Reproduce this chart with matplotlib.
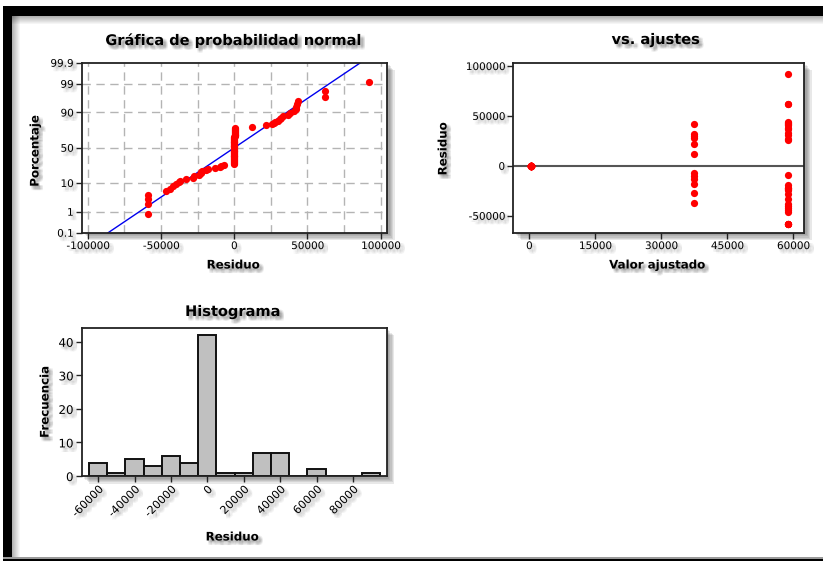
import matplotlib
matplotlib.use("Agg")
import matplotlib.pyplot as plt
import matplotlib.patheffects as pe
from matplotlib.patches import Rectangle
import numpy as np
from statistics import NormalDist

# ---- data -------------------------------------------------------------
# fitted value of each group and the residuals belonging to it
fit_levels = [300, 37400, 58700]
resid_low = [-290, -280, -260, -250, -240, -220, -200, -190, -170, -150,
             -140, -120, -100, -90, -70, -60, -40, -30, -20, -10,
             0, 0, 10, 20, 30, 40, 60, 70, 90, 100,
             120, 140, 150, 170, 190, 200, 220, 240, 250, 270, 280, 300]
resid_mid = [42000, 32000, 30000, 28000, 22000, 12000,
             -7000, -10000, -13500, -18000, -27600, -37300]
resid_high = [92000, 62000, 62000, 43500, 43000, 42000, 41000, 38000, 36500,
              33000, 31000, 27000, 26000,
              -9300, -19000, -22000, -22500, -23000, -24000, -28000, -33000,
              -38000, -40000, -42000, -44000, -46500,
              -58600, -58600, -58600, -58600]

prob_ticks = [0.1, 1, 10, 50, 90, 99, 99.9]
prob_labels = ["0.1", "1", "10", "50", "90", "99", "99.9"]
npp_xticks = [-100000, -50000, 0, 50000, 100000]
fit_xticks = [0, 15000, 30000, 45000, 60000]
fit_yticks = [-50000, 0, 50000, 100000]
hist_xticks = [-60000, -40000, -20000, 0, 20000, 40000, 60000, 80000]
hist_yticks = [0, 10, 20, 30, 40]
bin_width = 10000
bin_first_center = -60000
bin_last_center = 90000

groups = [resid_low, resid_mid, resid_high]
residuals = np.concatenate([np.array(g, float) for g in groups])
fitted = np.concatenate([np.full(len(g), f, float) for g, f in zip(groups, fit_levels)])

# ---- figure -----------------------------------------------------------
W, H = 823, 561
fig = plt.figure(figsize=(W / 100, H / 100), dpi=100)
fig.patch.set_facecolor("white")
plt.rcParams["font.family"] = ["DejaVu Sans"]

def px_rect(x, y, w, h, **kw):
    fig.add_artist(Rectangle((x / W, 1 - (y + h) / H), w / W, h / H,
                             transform=fig.transFigure, lw=0, **kw))

# window frame with a soft inner shadow
for k in range(8):
    a = 0.30 * (1 - k / 8)
    px_rect(12, 16 + k, W - 12, 1, color="black", alpha=a)
    px_rect(12 + k, 16, 1, H - 16, color="black", alpha=a)
px_rect(3, 6, W - 3, 10, color="black")
px_rect(3, 6, 9, H - 6, color="black")
px_rect(3, 557, W - 3, 2, color="#9a9a9a")
px_rect(3, 559, W - 3, 2, color="black")

def text_shadow(strength=0.07):
    fx = []
    for dx in (1.2, 2.2, 3.2):
        for dy in (1.2, 2.2, 3.2):
            fx.append(pe.SimplePatchShadow(offset=(dx, -dy), shadow_rgbFace="#333333",
                                           alpha=strength))
    return fx + [pe.Normal()]

def box_shadow():
    return [pe.SimplePatchShadow(offset=(k * 0.9, -k * 0.9), shadow_rgbFace="#333333",
                                 alpha=0.11) for k in range(1, 7)] + [pe.Normal()]

def ftext(x, y, s, **kw):
    t = fig.text(x / W, 1 - y / H, s, **kw)
    t.set_path_effects(text_shadow())
    return t

def px_axes(left, top, right, bottom):
    ax = fig.add_axes([left / W, 1 - bottom / H, (right - left) / W, (bottom - top) / H])
    ax.patch.set_path_effects(box_shadow())
    for sp in ax.spines.values():
        sp.set_color("#222222")
        sp.set_linewidth(1.3)
    ax.tick_params(direction="out", length=4, width=1, colors="#222222",
                   labelsize=7.5, labelcolor="black", pad=2)
    return ax

def shadow_ticklabels(ax):
    for lab in ax.get_xticklabels() + ax.get_yticklabels():
        lab.set_path_effects(text_shadow(0.05))

title_kw = dict(fontsize=10.5, fontweight="bold", ha="center", va="baseline")
label_kw = dict(fontsize=8.5, fontweight="bold", ha="center", va="center")

# ---- normal probability plot -------------------------------------------
nd = NormalDist()
ax1 = px_axes(82, 62.7, 387, 232.7)
srt = np.sort(residuals)
n = len(srt)
zq = np.array([nd.inv_cdf((i - 0.3) / (n + 0.4)) for i in range(1, n + 1)])
mu, sd = residuals.mean(), residuals.std(ddof=1)
zlim = nd.inv_cdf(0.999)
for xv in np.arange(-100000, 100001, 25000):
    ax1.axvline(xv, color="#b4b4b4", lw=1, ls=(0, (6, 4)), zorder=0)
for p in prob_ticks[1:-1]:
    ax1.axhline(nd.inv_cdf(p / 100), color="#b4b4b4", lw=1, ls=(0, (6, 4)), zorder=0)
zz = np.array([-zlim, zlim])
ax1.plot(mu + zz * sd, zz, color="#0000ee", lw=1, zorder=2)
ax1.plot(srt, zq, "o", color="#ff0000", ms=5.2, mec="none", zorder=3)
ax1.set_xlim(-104000, 104300)
ax1.set_ylim(-zlim, zlim)
ax1.set_xticks(npp_xticks)
ax1.set_xticklabels([str(v) for v in npp_xticks])
ax1.set_yticks([nd.inv_cdf(p / 100) for p in prob_ticks])
ax1.set_yticklabels(prob_labels)
shadow_ticklabels(ax1)
ftext(234, 45, "Gráfica de probabilidad normal", **title_kw)
ftext(233, 265, "Residuo", **label_kw)
ftext(35, 151, "Porcentaje", rotation=90, **label_kw)

# ---- residuals versus fits ----------------------------------------------
ax2 = px_axes(513.3, 62.7, 804, 232.7)
ax2.axhline(0, color="#555555", lw=1.5, zorder=1)
ax2.plot(fitted, residuals, "o", color="#ff0000", ms=5.2, mec="none", zorder=3)
ax2.set_xlim(-3640, 62430)
ax2.set_ylim(-67000, 103300)
ax2.set_xticks(fit_xticks)
ax2.set_xticklabels([str(v) for v in fit_xticks])
ax2.set_yticks(fit_yticks)
ax2.set_yticklabels([str(v) for v in fit_yticks])
shadow_ticklabels(ax2)
ftext(656, 44, "vs. ajustes", **title_kw)
ftext(657, 265, "Valor ajustado", **label_kw)
ftext(443, 149, "Residuo", rotation=90, **label_kw)

# ---- histogram -----------------------------------------------------------
ax3 = px_axes(81.7, 327.7, 386.7, 476)
edges = np.arange(bin_first_center - bin_width / 2, bin_last_center + bin_width, bin_width)
ax3.hist(residuals, bins=edges, color="#c0c0c0", edgecolor="#111111", linewidth=1.4, zorder=2)
ax3.set_xlim(-69000, 98500)
ax3.set_ylim(0, 44.2)
ax3.set_xticks(hist_xticks)
ax3.set_xticklabels([str(v) for v in hist_xticks], rotation=45, ha="right",
                    rotation_mode="anchor", fontsize=8)
ax3.set_yticks(hist_yticks)
ax3.set_yticklabels([str(v) for v in hist_yticks], fontsize=8.5)
shadow_ticklabels(ax3)
ftext(233, 316, "Histograma", **title_kw)
ftext(232, 537, "Residuo", **label_kw)
ftext(45, 402, "Frecuencia", rotation=90, **label_kw)

fig.savefig("out.png", dpi=100, facecolor="white")
